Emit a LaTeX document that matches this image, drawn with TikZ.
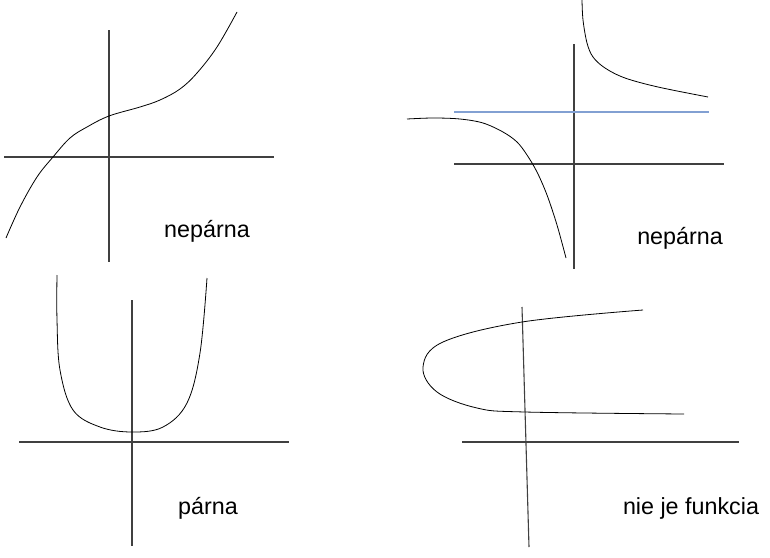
\documentclass[tikz,border=0pt]{standalone}
\usepackage{fontspec}
\setmainfont{Liberation Sans}
\begin{document}
\begin{tikzpicture}[x=1pt,y=-1pt,
  axis/.style={draw=black!75,line width=1.1pt},
  curve/.style={draw=black,line width=0.8pt},
  asym/.style={draw=asymblue,line width=1.1pt},
  lbl/.style={font=\fontsize{23.3}{26}\selectfont,inner sep=0pt}]
\definecolor{asymblue}{RGB}{130,160,210}
\useasboundingbox (0,0) rectangle (770,557);
% panel 1
\draw[axis] (109,30) -- (109,262);
\draw[axis] (4,157) -- (274,157);
\draw[curve] plot[smooth,tension=0.6] coordinates {(6,238) (20,207) (37,177) (53,157) (70,138) (87,127) (109,116) (140,107) (160,100) (180,89) (197,73) (217,47) (237,12)};
\node[lbl] (l1) at (207,231) {nepárna};
% panel 2
\draw[axis] (574,44) -- (574,269);
\draw[axis] (454,164) -- (724,164);
\draw[asym] (454,112) -- (709,112);
\draw[curve] plot[smooth,tension=0.55] coordinates {(582,0) (583,20) (587,43) (593,57) (605,68) (625,78) (658,87) (708,97)};
\draw[curve] plot[smooth,tension=0.55] coordinates {(407,119) (433,118) (460,119) (483,123) (503,132) (517,142) (527,155) (537,172) (547,195) (557,225) (566,258)};
\node[lbl] (l2) at (680,238) {nepárna};
% panel 3
\draw[axis] (132,300) -- (132,546);
\draw[axis] (19,442) -- (289,442);
\draw[curve] plot[smooth,tension=0.6] coordinates {(57,275) (57,320) (60,370) (73,410) (100,427) (132,432) (163,427) (187,403) (200,353) (207,278)};
\node[lbl] (l3) at (208,508) {párna};
% panel 4
\draw[axis] (522,307) -- (529,547);
\draw[axis] (462,442) -- (739,442);
\draw[curve] plot[smooth,tension=0.6] coordinates {(643,310) (522,322) (443,342) (423,367) (437,392) (477,408) (525,412) (684,414)};
\node[lbl] (l4) at (691,508) {nie je funkcia};
\end{tikzpicture}
\end{document}
